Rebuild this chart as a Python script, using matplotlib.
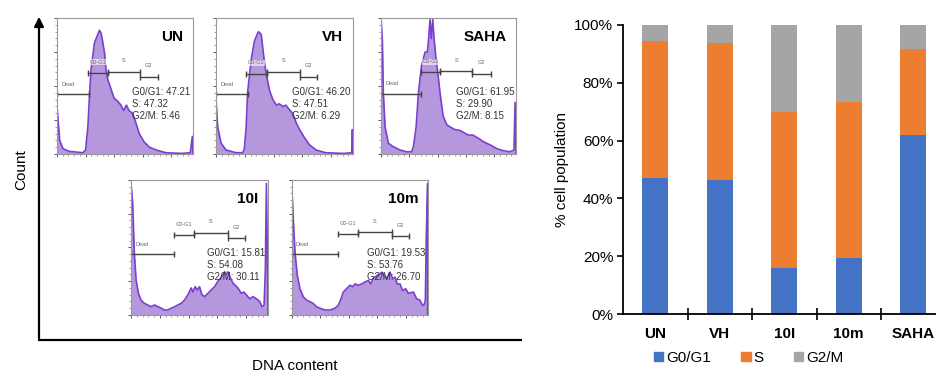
import numpy as np
import matplotlib
matplotlib.use('Agg')
import matplotlib.pyplot as plt
from matplotlib.patches import Patch
from matplotlib.ticker import MultipleLocator

plt.rcParams['font.family'] = ['Liberation Sans', 'DejaVu Sans']

# ---- bar chart data (% of cells) ----
groups = ['UN', 'VH', '10I', '10m', 'SAHA']
g0g1 = [47.21, 46.20, 15.81, 19.53, 61.95]
s_phase = [47.32, 47.51, 54.08, 53.76, 29.90]
g2m = [5.46, 6.29, 30.11, 26.70, 8.15]

# ---- histogram traces (x, count as fraction of panel) ----
un_x = [0, 0.02, 0.044, 0.09, 0.19, 0.21, 0.227, 0.24, 0.25, 0.276, 0.30, 0.312, 0.324,
        0.337, 0.35, 0.36, 0.373, 0.40, 0.42, 0.446, 0.47, 0.49, 0.51, 0.53, 0.556,
        0.58, 0.605, 0.64, 0.68, 0.73, 0.80, 0.92, 0.98, 0.995, 1.0]
un_y = [0.35, 0.10, 0.04, 0.02, 0.01, 0.03, 0.20, 0.45, 0.62, 0.82, 0.88, 0.91, 0.89,
        0.82, 0.74, 0.62, 0.55, 0.47, 0.41, 0.39, 0.36, 0.32, 0.36, 0.32, 0.30,
        0.23, 0.15, 0.09, 0.05, 0.03, 0.01, 0.005, 0.01, 0.13, 0.0]

vh_x = [0, 0.012, 0.037, 0.073, 0.146, 0.195, 0.207, 0.22, 0.23, 0.256, 0.28, 0.30, 0.31,
        0.33, 0.34, 0.354, 0.37, 0.39, 0.415, 0.44, 0.46, 0.49, 0.51, 0.54, 0.56,
        0.585, 0.61, 0.646, 0.68, 0.73, 0.80, 0.93, 0.99, 0.995, 1.0]
vh_y = [0.40, 0.20, 0.08, 0.03, 0.01, 0.01, 0.04, 0.20, 0.45, 0.69, 0.83, 0.88, 0.90,
        0.88, 0.79, 0.67, 0.57, 0.47, 0.40, 0.36, 0.37, 0.35, 0.36, 0.32, 0.30,
        0.23, 0.18, 0.12, 0.07, 0.03, 0.01, 0.005, 0.01, 0.18, 0.0]

saha_x = [0, 0.01, 0.017, 0.03, 0.054, 0.09, 0.14, 0.19, 0.227, 0.24, 0.26, 0.277, 0.30,
          0.326, 0.343, 0.35, 0.363, 0.372, 0.383, 0.393, 0.407, 0.424, 0.437, 0.46,
          0.487, 0.51, 0.548, 0.585, 0.62, 0.647, 0.68, 0.72, 0.76, 0.81, 0.857, 0.906,
          0.955, 0.985, 0.993, 1.0]
saha_y = [1.0, 0.83, 0.45, 0.20, 0.08, 0.055, 0.03, 0.017, 0.017, 0.055, 0.20, 0.45, 0.65,
          0.75, 0.75, 0.82, 0.99, 0.85, 0.99, 0.85, 0.70, 0.57, 0.45, 0.28,
          0.216, 0.20, 0.18, 0.174, 0.154, 0.14, 0.14, 0.117, 0.09, 0.067, 0.04, 0.025,
          0.017, 0.03, 0.38, 0.0]

i10_x = [0, 0.012, 0.024, 0.037, 0.054, 0.073, 0.098, 0.122, 0.146, 0.171, 0.195, 0.22,
         0.244, 0.268, 0.293, 0.317, 0.341, 0.366, 0.39, 0.415, 0.439, 0.451, 0.468,
         0.483, 0.5, 0.517, 0.537, 0.561, 0.585, 0.61, 0.634, 0.659, 0.683, 0.695,
         0.707, 0.727, 0.744, 0.761, 0.78, 0.805, 0.824, 0.841, 0.866, 0.89, 0.915,
         0.939, 0.956, 0.971, 0.98, 0.988, 1.0]
i10_y = [0.975, 0.83, 0.46, 0.26, 0.16, 0.11, 0.086, 0.074, 0.062, 0.074, 0.062, 0.05,
         0.037, 0.037, 0.05, 0.06, 0.074, 0.086, 0.11, 0.15, 0.20, 0.17, 0.21,
         0.185, 0.21, 0.15, 0.136, 0.16, 0.185, 0.21, 0.25, 0.28, 0.32, 0.30,
         0.32, 0.27, 0.235, 0.22, 0.20, 0.16, 0.17, 0.15, 0.12, 0.136, 0.12,
         0.10, 0.06, 0.074, 0.33, 0.975, 0.0]

m10_x = [0, 0.012, 0.025, 0.042, 0.061, 0.086, 0.11, 0.135, 0.159, 0.184, 0.208, 0.245,
         0.282, 0.319, 0.343, 0.36, 0.38, 0.404, 0.429, 0.449, 0.466, 0.49, 0.515,
         0.539, 0.564, 0.581, 0.6, 0.625, 0.649, 0.662, 0.679, 0.699, 0.723, 0.743,
         0.76, 0.777, 0.797, 0.816, 0.838, 0.858, 0.895, 0.919, 0.943, 0.961, 0.973,
         0.983, 0.99, 1.0, 1.0]
m10_y = [0.975, 0.71, 0.46, 0.29, 0.195, 0.134, 0.11, 0.098, 0.085, 0.06, 0.05, 0.037,
         0.037, 0.05, 0.073, 0.11, 0.17, 0.195, 0.22, 0.21, 0.23, 0.22, 0.23,
         0.244, 0.256, 0.23, 0.27, 0.29, 0.305, 0.317, 0.29, 0.27, 0.317, 0.27,
         0.28, 0.23, 0.23, 0.18, 0.195, 0.16, 0.17, 0.12, 0.11, 0.073, 0.073,
         0.11, 0.585, 0.975, 0.0]

# gates: (start, end, height) for Dead, G0-G1, S, G2
un_gates = [(0, 0.234, 0.44), (0.227, 0.373, 0.595), (0.373, 0.61, 0.607), (0.61, 0.74, 0.57)]
vh_gates = [(0, 0.23, 0.44), (0.22, 0.37, 0.59), (0.37, 0.61, 0.605), (0.61, 0.74, 0.57)]
saha_gates = [(0, 0.294, 0.445), (0.294, 0.44, 0.60), (0.44, 0.677, 0.61), (0.677, 0.815, 0.59)]
i10_gates = [(0, 0.317, 0.45), (0.317, 0.46, 0.59), (0.46, 0.707, 0.61), (0.707, 0.834, 0.568)]
m10_gates = [(0, 0.343, 0.45), (0.343, 0.485, 0.60), (0.485, 0.735, 0.615), (0.735, 0.865, 0.585)]
gate_names = ['Dead', 'G0-G1', 'S', 'G2']

fill_col = '#b497dc'
line_col = '#7b3fd0'

fig = plt.figure(figsize=(9.36, 3.74), dpi=100)

# background axes in pixel units for the big Count / DNA content arrows
bg = fig.add_axes([0, 0, 1, 1])
bg.set_xlim(0, 936)
bg.set_ylim(374, 0)
bg.axis('off')
bg.annotate('', xy=(39, 14), xytext=(39, 341),
            arrowprops=dict(arrowstyle='-|>', lw=1.6, color='black', mutation_scale=14))
bg.plot([38.2, 522], [340, 340], color='black', lw=1.6, solid_capstyle='butt')
bg.text(21, 170, 'Count', rotation=90, ha='center', va='center', fontsize=11)
bg.text(295, 366, 'DNA content', ha='center', va='center', fontsize=11)


def panel(rect, xs, ys, gates, name, idx):
    ax = fig.add_axes(rect)
    ax.fill_between(xs, ys, color=fill_col, lw=0)
    ax.plot(xs, ys, color=line_col, lw=1.2)
    ax.set_xlim(0, 1)
    ax.set_ylim(0, 1)
    for sp in ax.spines.values():
        sp.set_color('#999999')
        sp.set_linewidth(0.8)
    ax.xaxis.set_major_locator(MultipleLocator(0.21))
    ax.xaxis.set_minor_locator(MultipleLocator(0.042))
    ax.yaxis.set_major_locator(MultipleLocator(0.25))
    ax.yaxis.set_minor_locator(MultipleLocator(0.05))
    ax.tick_params(which='major', length=2.5, width=0.7, color='#555555',
                   labelbottom=False, labelleft=False)
    ax.tick_params(which='minor', length=1.3, width=0.5, color='#777777')
    for k, (a, b, h) in enumerate(gates):
        ax.plot([a, b], [h, h], color='#444444', lw=1.0, marker='|', ms=4, mew=1.0)
        if k == 0:
            ax.text(0.03, h + 0.075, gate_names[k], fontsize=4, color='#666666', va='center')
        else:
            ax.text((a + b) / 2, h + 0.08, gate_names[k], fontsize=4, color='#666666',
                    ha='center', va='center',
                    bbox=dict(boxstyle='square,pad=0.1', fc='white', ec='none', alpha=0.6)
                    if k == 1 else None)
    ax.text(0.93, 0.86, name, fontsize=11, fontweight='bold', ha='right', va='center')
    ax.text(0.555, 0.495, 'G0/G1: %.2f\nS: %.2f\nG2/M: %.2f' % (g0g1[idx], s_phase[idx], g2m[idx]),
            fontsize=7, color='#333333', va='top', linespacing=1.25)
    return ax


panel([0.0609, 0.588, 0.1453, 0.3636], un_x, un_y, un_gates, 'UN', 0)
panel([0.2308, 0.588, 0.1464, 0.3636], vh_x, vh_y, vh_gates, 'VH', 1)
panel([0.4071, 0.588, 0.1442, 0.3636], saha_x, saha_y, saha_gates, 'SAHA', 4)
panel([0.1400, 0.1578, 0.1464, 0.3610], i10_x, i10_y, i10_gates, '10I', 2)
panel([0.3116, 0.1578, 0.1453, 0.3610], m10_x, m10_y, m10_gates, '10m', 3)

# ---- stacked bar chart ----
colors = ['#4472c4', '#ed7d31', '#a5a5a5']
ax = fig.add_axes([0.6656, 0.1604, 0.3446, 0.7728])
x = np.arange(len(groups))
bottom = np.zeros(len(groups))
for vals, c in zip([g0g1, s_phase, g2m], colors):
    ax.bar(x, vals, 0.4, bottom=bottom, color=c)
    bottom = bottom + np.array(vals)
ax.set_xlim(-0.5, 4.5)
ax.set_ylim(0, 100)
ax.set_yticks(np.arange(0, 101, 20))
ax.set_yticklabels(['%d%%' % v for v in range(0, 101, 20)], fontsize=11)
ax.set_xticks(np.arange(0.5, 4, 1))
ax.set_xticklabels([])
ax.set_xticks(x, minor=True)
ax.set_xticklabels(groups, minor=True, fontsize=11, fontweight='bold')
ax.tick_params(axis='x', which='major', direction='inout', length=8, width=1.2)
ax.tick_params(axis='x', which='minor', length=0, pad=9)
ax.tick_params(axis='y', length=4, width=1.2, pad=3)
for s in ['top', 'right']:
    ax.spines[s].set_visible(False)
for s in ['left', 'bottom']:
    ax.spines[s].set_linewidth(1.3)
ax.set_ylabel('% cell population', fontsize=11, labelpad=4)

handles = [Patch(color=c) for c in colors]
fig.legend(handles, ['G0/G1', 'S', 'G2/M'], loc='center', bbox_to_anchor=(0.80, 0.043),
           ncol=3, frameon=False, fontsize=11, handlelength=0.6, handleheight=0.6,
           handletextpad=0.2, columnspacing=2.0)

fig.savefig('out.png', dpi=100)
